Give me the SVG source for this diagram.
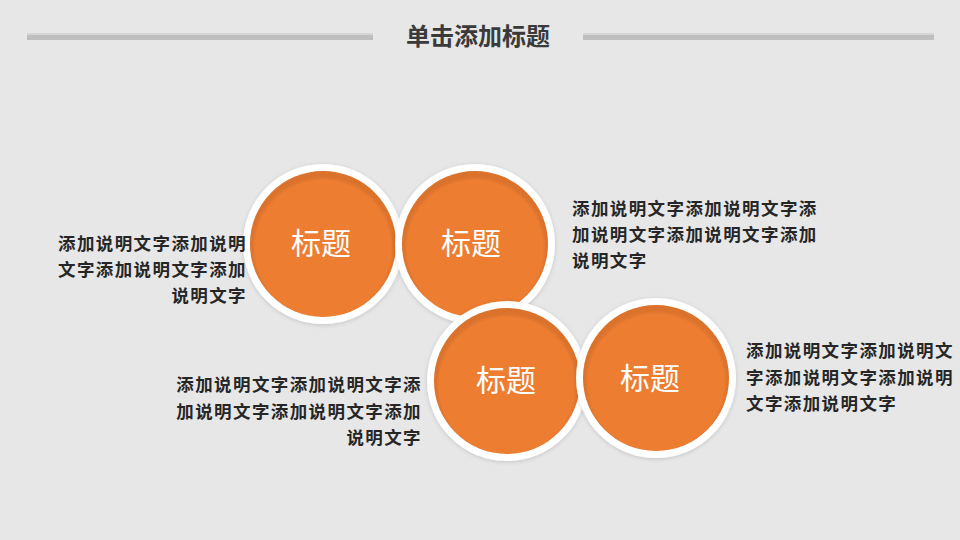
<svg xmlns="http://www.w3.org/2000/svg" width="960" height="540" viewBox="0 0 960 540">
<defs>
<style>
.bg{fill:#E7E7E7}
.bar{fill:#BFBFBF}
.barhi{fill:#D6D6D6}
.title{font-family:"Noto Sans CJK SC","Liberation Sans",sans-serif;font-weight:bold;font-size:24px;fill:#3A3A3A}
.ring{fill:#FFFFFF;filter:url(#shadow)}
.core{fill:#ED7D31}
.inner{fill:url(#innerGrad)}
.lbl{font-family:"Noto Sans CJK SC","Liberation Sans",sans-serif;font-size:30px;fill:#FFFFFF;text-anchor:middle}
.desc{font-family:"Noto Sans CJK SC","Liberation Sans",sans-serif;font-weight:bold;font-size:17.5px;fill:#262626;letter-spacing:1.4px}
.end{text-anchor:end}
</style>
<filter id="shadow" x="-20%" y="-20%" width="140%" height="140%">
<feGaussianBlur in="SourceAlpha" stdDeviation="2"/>
<feOffset dx="0" dy="1" result="b"/>
<feFlood flood-color="#000000" flood-opacity="0.15"/>
<feComposite in2="b" operator="in"/>
<feMerge><feMergeNode/><feMergeNode in="SourceGraphic"/></feMerge>
</filter>
<radialGradient id="innerGrad" cx="0.5" cy="0.53" r="0.5">
<stop offset="0.93" stop-color="#000000" stop-opacity="0"/>
<stop offset="1" stop-color="#6A300A" stop-opacity="0.14"/>
</radialGradient>
</defs>
<rect class="bg" x="0" y="0" width="960" height="540"/>
<g id="header">
<rect class="barhi" x="27" y="33" width="346" height="2"/>
<rect class="bar" x="27" y="35" width="346" height="5"/>
<rect class="barhi" x="583" y="33" width="351" height="2"/>
<rect class="bar" x="583" y="35" width="351" height="5"/>
<text class="title" x="478" y="45" text-anchor="middle">单击添加标题</text>
</g>
<g id="node1">
<circle class="ring" cx="323" cy="244" r="80"/>
<circle class="core" cx="323" cy="244" r="73"/>
<circle class="inner" cx="323" cy="244" r="73"/>
<text class="lbl" x="321" y="254">标题</text>
</g>
<g id="node2">
<circle class="ring" cx="475" cy="244" r="80"/>
<circle class="core" cx="475" cy="244" r="73"/>
<circle class="inner" cx="475" cy="244" r="73"/>
<text class="lbl" x="471" y="254">标题</text>
</g>
<g id="node3">
<circle class="ring" cx="507" cy="381" r="80"/>
<circle class="core" cx="507" cy="381" r="73"/>
<circle class="inner" cx="507" cy="381" r="73"/>
<text class="lbl" x="506" y="391">标题</text>
</g>
<g id="node4">
<circle class="ring" cx="656" cy="378" r="80"/>
<circle class="core" cx="656" cy="378" r="73"/>
<circle class="inner" cx="656" cy="378" r="73"/>
<text class="lbl" x="650" y="389">标题</text>
</g>
<g id="desc1">
<text class="desc end" x="247" y="250">添加说明文字添加说明</text>
<text class="desc end" x="247" y="276">文字添加说明文字添加</text>
<text class="desc end" x="247" y="302">说明文字</text>
</g>
<g id="desc2">
<text class="desc" x="572" y="215">添加说明文字添加说明文字添</text>
<text class="desc" x="572" y="241">加说明文字添加说明文字添加</text>
<text class="desc" x="572" y="267">说明文字</text>
</g>
<g id="desc3">
<text class="desc end" x="422" y="391">添加说明文字添加说明文字添</text>
<text class="desc end" x="422" y="418">加说明文字添加说明文字添加</text>
<text class="desc end" x="422" y="444">说明文字</text>
</g>
<g id="desc4">
<text class="desc" x="746" y="357">添加说明文字添加说明文</text>
<text class="desc" x="746" y="384">字添加说明文字添加说明</text>
<text class="desc" x="746" y="410">文字添加说明文字</text>
</g>
</svg>
